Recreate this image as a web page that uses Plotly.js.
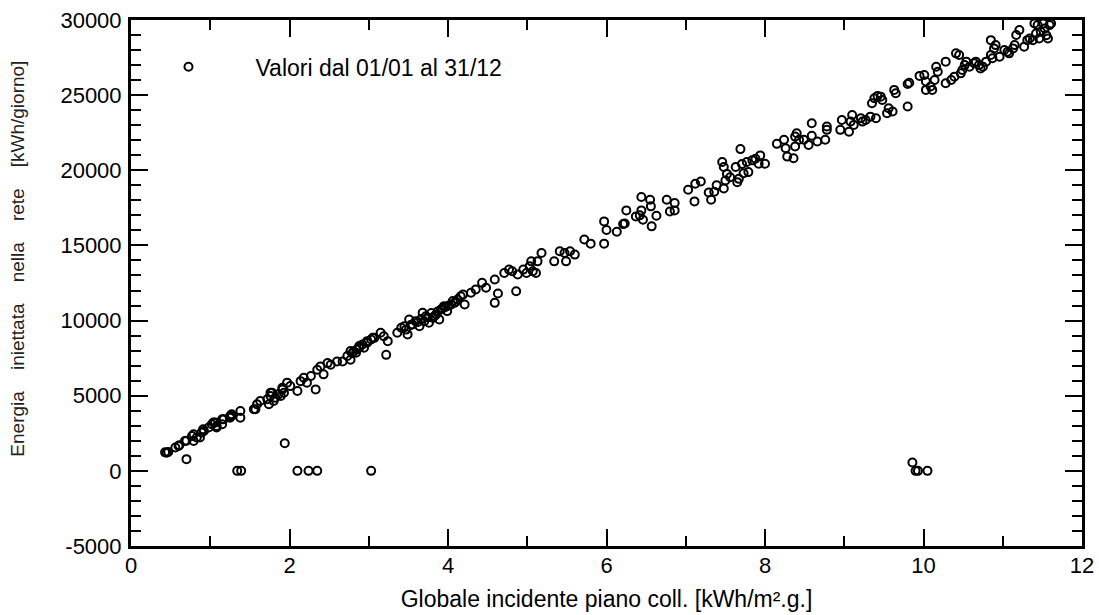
<!DOCTYPE html>
<html>
<head>
<meta charset="utf-8">
<script src="https://cdn.plot.ly/plotly-3.0.1.min.js"></script>
<style>html,body{margin:0;padding:0;background:#fff;}</style>
</head>
<body>
<div id="chart" style="width:1099px;height:615px;"></div>
<script>
// Global irradiation on collector plane [kWh/m².g.]
const globaleIncidente = [
  0.43,0.45,0.47,0.56,0.60,0.61,0.68,0.70,0.70,0.77,0.79,0.79,0.83,0.87,0.89,0.92,0.91,0.98,1.02,1.04,1.06,1.08,1.08,1.15,1.15,1.17,1.25,1.25,1.27,1.27,1.38,1.38,1.34,1.39,
  1.55,1.57,1.59,1.63,1.72,1.74,1.76,1.76,1.78,1.80,1.82,1.86,1.89,1.91,1.91,1.93,1.97,1.94,2.01,2.10,2.10,2.14,2.18,2.22,2.24,2.27,2.33,2.35,2.35,2.39,2.43,2.48,2.52,2.60,2.67,2.73,2.77,2.77,2.79,2.81,2.84,2.85,2.88,2.88,2.92,2.94,2.98,2.98,3.03,3.03,3.05,3.07,3.15,3.19,3.22,3.24,3.36,
  3.41,3.45,3.49,3.51,3.55,3.59,3.64,3.68,3.72,3.76,3.81,3.85,3.89,3.91,3.95,3.99,4.04,4.08,4.12,4.16,4.21,4.19,4.29,4.35,4.43,4.48,4.59,4.59,4.63,4.71,4.77,4.81,4.86,4.88,4.95,4.99,5.03,5.05,5.07,5.11,5.13,5.18,5.34,5.41,5.47,5.49,5.54,5.60,
  3.47,3.53,3.62,3.66,3.70,3.74,3.79,3.83,3.87,3.93,3.97,4.01,4.06,4.10,
  5.72,5.80,5.97,6.00,5.97,6.13,6.21,6.23,6.25,6.37,6.42,6.44,6.44,6.46,6.55,6.56,6.57,6.63,6.76,6.80,6.86,6.86,7.03,7.11,7.12,7.19,7.29,7.32,7.36,7.39,7.46,7.48,7.48,7.50,7.52,7.56,7.63,7.65,7.67,7.69,7.71,7.73,7.77,7.79,7.84,7.88,7.92,7.94,8.00,8.15,
  8.24,8.26,8.28,8.36,8.38,8.38,8.40,8.43,8.49,8.55,8.59,8.59,8.66,8.76,8.78,8.78,8.95,8.97,9.06,9.08,9.10,9.12,9.21,9.23,9.27,9.33,9.40,9.35,9.38,9.42,9.46,9.48,9.54,9.56,9.61,9.63,9.65,9.80,9.80,9.82,9.95,10.01,10.03,10.03,10.09,10.11,10.14,10.16,10.18,
  9.86,9.90,9.93,10.05,
  10.28,10.28,10.35,10.39,10.41,10.45,10.47,10.49,10.52,10.54,10.58,10.64,10.66,10.70,10.72,10.75,10.79,10.85,10.85,10.87,10.89,10.91,10.96,11.02,11.06,11.08,11.13,11.15,11.17,11.21,11.27,11.31,11.34,11.38,11.40,11.42,11.44,11.46,11.48,11.51,11.53,11.55,11.57,11.59,11.61
];
// Energy injected into the grid [kWh/giorno]
const energiaIniettata = [
  1230,1200,1260,1550,1660,1700,1990,2000,780,2320,2440,1990,2220,2220,2550,2660,2770,2880,3100,3210,3210,2990,2880,3100,3430,3430,3540,3650,3650,3760,3980,3540,0,0,
  4100,4100,4430,4650,4760,4430,4980,5200,5200,4650,4870,5090,4980,5420,5530,5200,5870,1840,5640,5310,0,5970,6200,5870,0,6310,5420,6730,0,6950,6420,7170,7060,7280,7280,7640,7390,7970,7830,7940,7860,8080,8300,8190,8410,8190,8520,8630,8740,0,8860,8850,9190,8960,7720,8630,9190,
  9520,9630,9080,10070,9740,9960,9630,10520,10290,9850,10180,10400,10070,10740,10960,10630,11070,11180,11400,11620,11070,11730,11850,12070,12510,12180,12730,11180,11800,13170,13390,13280,11950,13060,13390,13170,13610,13940,13280,13170,13940,14500,13940,14610,14500,13940,14610,14390,
  9400,9700,9900,10100,9950,10200,10500,10300,10600,10800,10900,11000,11300,11250,
  15390,15120,16600,16030,15120,15910,16420,16460,17330,16930,17000,17330,18220,16710,18040,17600,16270,16980,18040,17260,17820,17330,18700,17930,19100,19250,18520,18040,18570,19010,20550,20220,18790,19320,19760,19540,20220,19210,19430,21410,20420,19800,20550,19880,20660,20770,20440,20990,20440,21760,
  22030,21470,20910,20800,21580,22240,22460,22030,22030,21690,23130,22290,21910,22030,22690,22910,22690,23350,22570,23240,23680,23020,23460,23240,23350,23570,23460,24460,24790,24950,24900,24680,23800,24130,23910,25350,25130,24240,25740,25830,26280,26340,25910,25350,25570,25350,26010,26890,26560,
  560,0,0,0,
  27230,25790,26010,26230,27780,27670,26450,26670,27000,27230,26890,27120,27230,27000,26780,26890,27230,28660,27670,27450,28110,28330,27560,28000,27890,27780,28110,28330,29000,29330,28220,28660,28770,28660,29770,29100,29660,28770,29210,29770,29440,28990,28770,29660,29770
];
const seriesName = "Valori dal 01/01 al 31/12";
const xTickVals = [0,2,4,6,8,10,12];
const yTickVals = [-5000,0,5000,10000,15000,20000,25000,30000];
const yTickText = ["-5000","0","5000","10000","15000","20000","25000","30000"];
const xTitle = "Globale incidente piano coll. [kWh/m².g.]";
const yTitleWords = ["Energia","iniettata","nella","rete","[kWh/giorno]"];

const FONT = "Liberation Sans, Arial, Helvetica, sans-serif";
const gap = "\u00a0\u00a0\u00a0\u00a0";

const trace = {
  type: "scatter",
  mode: "markers",
  x: globaleIncidente,
  y: energiaIniettata,
  name: seriesName,
  showlegend: true,
  marker: {symbol: "circle-open", size: 8, color: "#000", line: {width: 2, color: "#000"}}
};

const axisCommon = {
  showline: true, linecolor: "#000", linewidth: 3, mirror: "ticks",
  ticks: "inside", ticklen: 17, tickwidth: 2, tickcolor: "#000",
  showgrid: false, zeroline: false,
  tickfont: {family: FONT, size: 22, color: "#000"}
};

const layout = {
  width: 1099, height: 615,
  margin: {l: 131, r: 17, t: 20, b: 69},
  paper_bgcolor: "#fff", plot_bgcolor: "#fff",
  font: {family: FONT, color: "#000"},
  showlegend: true,
  legend: {
    x: -0.01, xanchor: "left", y: 0.952, yanchor: "top",
    bgcolor: "rgba(0,0,0,0)", borderwidth: 0,
    itemwidth: 124,
    font: {family: FONT, size: 23, color: "#000"}
  },
  xaxis: Object.assign({}, axisCommon, {
    range: [0, 12], tickvals: xTickVals, ticklabelstandoff: -2,
    minor: {ticks: "inside", ticklen: 10, tickwidth: 2, tickcolor: "#000", dtick: 1, showgrid: false},
    title: {text: xTitle, font: {family: FONT, size: 23, color: "#000"}, standoff: 14}
  }),
  yaxis: Object.assign({}, axisCommon, {
    range: [-5000, 30000], tickvals: yTickVals, ticktext: yTickText, ticklabelstandoff: 2,
    minor: {ticks: "inside", ticklen: 10, tickwidth: 2, tickcolor: "#000", dtick: 1000, showgrid: false}
  }),
  annotations: [{
    text: yTitleWords.join(gap),
    xref: "paper", yref: "paper", x: -0.1195, y: 0.547,
    xanchor: "center", yanchor: "middle", textangle: -90, showarrow: false,
    font: {family: FONT, size: 19, color: "#222"}
  }]
};

Plotly.newPlot("chart", [trace], layout, {displayModeBar: false, staticPlot: true});
</script>
</body>
</html>
